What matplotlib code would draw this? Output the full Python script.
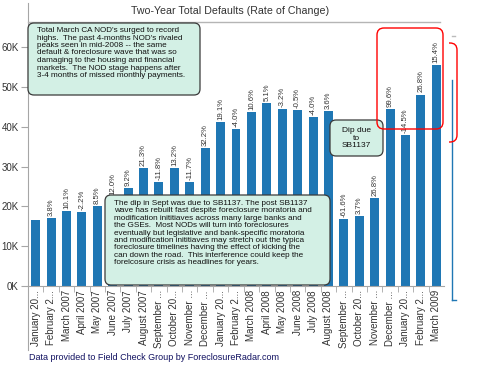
import numpy as np
import matplotlib
matplotlib.use('Agg')
import matplotlib.pyplot as plt
from matplotlib.patches import FancyBboxPatch, Rectangle
from matplotlib.lines import Line2D
from matplotlib.transforms import IdentityTransform

plt.rcParams['font.family'] = ['Liberation Sans', 'DejaVu Sans']

# month labels as shown (truncated ones kept as in the chart)
months = ['January 20...', 'February 2...', 'March 2007', 'April 2007', 'May 2007',
          'June 2007', 'July 2007', 'August 2007', 'September ...', 'October 20...',
          'November ...', 'December ...', 'January 20...', 'February 2...', 'March 2008',
          'April 2008', 'May 2008', 'June 2008', 'July 2008', 'August 2008',
          'September ...', 'October 20...', 'November ...', 'December ...',
          'January 20...', 'February 2...', 'March 2009']

# total NODs per month
defaults = [16500, 17100, 18900, 18500, 20000, 22400, 24500, 29700, 26200, 29600,
            26200, 34600, 41200, 39500, 43700, 46000, 44500, 44300, 42500, 44000,
            16900, 17500, 22200, 44400, 37900, 48100, 55500]

# month over month change labels
changes = ['', '3.8%', '10.1%', '-2.2%', '8.5%', '12.0%', '9.2%', '21.3%', '-11.8%',
           '13.2%', '-11.7%', '32.2%', '19.1%', '-4.0%', '10.6%', '5.1%', '-3.2%',
           '-0.5%', '-4.0%', '3.6%', '-61.6%', '3.7%', '26.8%', '99.6%', '-14.5%',
           '26.8%', '15.4%']

note1 = ("Total March CA NOD's surged to record\n"
         "highs.  The past 4-months NOD's rivaled\n"
         "peaks seen in mid-2008 -- the same\n"
         "default & foreclosure wave that was so\n"
         "damaging to the housing and financial\n"
         "markets.  The NOD stage happens after\n"
         "3-4 months of missed monthly payments.")
note2 = ("The dip in Sept was due to SB1137. The post SB1137\n"
         "wave has rebuilt fast despite foreclosure moratoria and\n"
         "modification inititiaves across many large banks and\n"
         "the GSEs.  Most NODs will turn into foreclosures\n"
         "eventually but legislative and bank-specific moratoria\n"
         "and modification inititiaves may stretch out the typica\n"
         "foreclosure timelines having the effect of kicking the\n"
         "can down the road.  This interference could keep the\n"
         "forelcosure crisis as headlines for years.")
note3 = "Dip due\nto\nSB1137"

W, H = 480, 367
BLUE = '#1f77b4'
GRAY = '#a6a6a6'
TXT = '#333333'
MINT = '#d3f0e5'

fig = plt.figure(figsize=(W / 100, H / 100), dpi=100)
ax = fig.add_axes([28 / W, 1 - 286 / H, (444 - 28) / W, (286 - 3) / H])

x = np.arange(len(months))
ax.bar(x, defaults, width=0.58, color=BLUE, zorder=2)
for i, (v, lab) in enumerate(zip(defaults, changes)):
    if lab:
        ax.annotate(lab, (i, v), xytext=(0, 1.5), textcoords='offset points',
                    rotation=90, ha='center', va='bottom', fontsize=5.6, color=TXT)

ax.set_xlim(-0.5, len(months) - 0.5)
ax.set_ylim(0, 71100)
ax.set_yticks(np.arange(0, 60001, 10000))
ax.set_yticklabels([f'{v // 1000}K' for v in range(0, 60001, 10000)])
ax.set_xticks(x)
ax.set_xticklabels(months, rotation=90, va='top', ha='center')
ax.set_xticks(x[:-1] + 0.5, minor=True)
ax.tick_params(axis='x', which='major', length=0, pad=3, labelsize=7, labelcolor=TXT)
ax.tick_params(axis='x', which='minor', length=4, color=GRAY)
ax.tick_params(axis='y', length=5, pad=1.5, color=GRAY, labelsize=7, labelcolor=TXT)
for s in ['top', 'right']:
    ax.spines[s].set_visible(False)
for s in ['left', 'bottom']:
    ax.spines[s].set_color(GRAY)

ident = IdentityTransform()


def P(px, py):
    # image pixel (top-left origin) -> display coords
    return px, H - py


# title and its rule
fig.text(230, H - 11, 'Two-Year Total Defaults (Rate of Change)', transform=ident,
         ha='center', va='center', fontsize=7.7, color=TXT)
fig.add_artist(Line2D([28, 440], [H - 22, H - 22], transform=ident, color='#b5b5b5', lw=1))
# left rule continues down through the label area
fig.add_artist(Line2D([28, 28], [H - 286, H - 350], transform=ident, color=GRAY, lw=0.8))


def note_box(x0, y0, x1, y1, fc=MINT, ec='#3a3a3a', r=6, lw=0.9, clip=None):
    b = FancyBboxPatch(P(x0, y1), x1 - x0, y1 - y0, boxstyle=f'round,pad=0,rounding_size={r}',
                       transform=ident, fc=fc, ec=ec, lw=lw, zorder=5)
    fig.add_artist(b)
    if clip is not None:
        b.set_clip_path(clip)
    return b


note_box(28, 23, 200, 95)
fig.text(37, H - 27, note1, transform=ident, ha='left', va='top', fontsize=5.9,
         linespacing=1.1, color='#111111', zorder=6)

note_box(105, 195, 330, 285)
fig.text(114, H - 200, note2, transform=ident, ha='left', va='top', fontsize=5.9,
         linespacing=1.08, color='#111111', zorder=6)

note_box(330, 120, 383, 156)
fig.text(356.5, H - 138, note3, transform=ident, ha='center', va='center', fontsize=6,
         linespacing=1.1, color='#111111', zorder=6)

# red highlight boxes
note_box(377, 28, 443, 129, fc='none', ec='red', r=7, lw=1)
clip = Rectangle((449, 0), 20, H, transform=ident)
note_box(420, 43, 457, 142, fc='none', ec='red', r=7, lw=1, clip=clip)

# edge of the neighbouring chart
fig.add_artist(Line2D([452, 452], [H - 80, H - 300], transform=ident, color=BLUE, lw=1))
fig.add_artist(Line2D([452, 456], [H - 300, H - 300], transform=ident, color=BLUE, lw=1))
fig.add_artist(Line2D([452, 455], [H - 36, H - 36], transform=ident, color='#bbbbbb', lw=1))

fig.text(29, H - 358, 'Data provided to Field Check Group by ForeclosureRadar.com',
         transform=ident, ha='left', va='center', fontsize=6.5, color='#101060')

fig.savefig('out.png', dpi=100)
